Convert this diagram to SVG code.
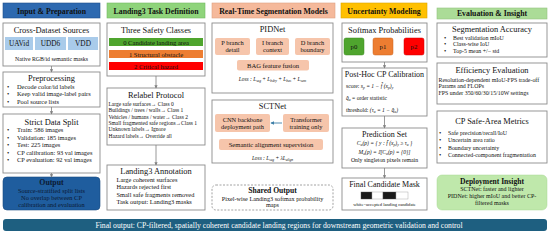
<svg xmlns="http://www.w3.org/2000/svg" width="550" height="233" viewBox="0 0 550 233">
<defs>
<marker id="ah" viewBox="0 0 6 6" refX="5" refY="3" markerWidth="4" markerHeight="4" orient="auto"><path d="M0,0 L6,3 L0,6 z" fill="#7f7f7f"/></marker>
<marker id="ahb" viewBox="0 0 6 6" refX="5" refY="3" markerWidth="4" markerHeight="4" orient="auto"><path d="M0,0 L6,3 L0,6 z" fill="#3d7fa8"/></marker>
<style>
text{font-family:"Liberation Serif","Times New Roman",serif;fill:#111;}
.box{fill:#fff;stroke:#8c8c8c;stroke-width:0.9;}
.hd{font-weight:bold;font-size:7.8px;text-anchor:middle;}
.tt{font-size:8.4px;text-anchor:middle;}
.tx{font-size:6.4px;}
.sm{font-size:5.5px;}
.c{text-anchor:middle;}
.eq{font-size:5.4px;font-style:italic;}
.sub{fill:#f6c5ab;}
.conn{stroke:#7f7f7f;stroke-width:0.8;fill:none;marker-end:url(#ah);}
</style>
</defs>

<!-- Column 1 -->
<g id="h1"><rect x="3" y="3" width="97" height="15" fill="#2d69b0" stroke="#1f4f8a" stroke-width="0.6"/><text class="hd" x="51.5" y="13.5">Input &amp; Preparation</text></g>
<g id="sources"><rect class="box" x="3" y="23" width="97" height="43"/><text class="tt" x="51.5" y="32.5">Cross-Dataset Sources</text>
<rect x="5" y="37" width="28" height="13" fill="#a9cbea"/><rect x="35" y="37" width="31" height="13" fill="#a9cbea"/><rect x="68" y="37" width="30" height="13" fill="#a9cbea"/>
<text class="c" x="19" y="46" font-size="7.3">UAVid</text><text class="c" x="50.5" y="46" font-size="7.3">UDD6</text><text class="c" x="83" y="46" font-size="7.3">VDD</text>
<text class="c" x="51.5" y="61" font-size="5.8">Native RGB/id semantic masks</text></g>
<g id="prep"><rect class="box" x="3" y="72" width="97" height="35"/><text class="tt" x="51.5" y="80.8">Preprocessing</text>
<text class="tx" x="7" y="88.5">•</text><text class="tx" x="17" y="88.5">Decode color/id labels</text>
<text class="tx" x="7" y="96">•</text><text class="tx" x="17" y="96">Keep valid image-label pairs</text>
<text class="tx" x="7" y="103.5">•</text><text class="tx" x="17" y="103.5">Pool source lists</text></g>
<g id="split"><rect class="box" x="3" y="114" width="97" height="59"/><text class="tt" x="51.5" y="124.5">Strict Data Split</text>
<text class="tx" x="7" y="132.3">•</text><text class="tx" x="17" y="132.3">Train: 586 images</text>
<text class="tx" x="7" y="139.8">•</text><text class="tx" x="17" y="139.8">Validation: 185 images</text>
<text class="tx" x="7" y="147.3">•</text><text class="tx" x="17" y="147.3">Test: 225 images</text>
<text class="tx" x="7" y="154.8">•</text><text class="tx" x="17" y="154.8">CP calibration: 93 val images</text>
<text class="tx" x="7" y="162.3">•</text><text class="tx" x="17" y="162.3">CP evaluation: 92 val images</text></g>
<g id="output1"><rect x="3" y="177" width="97" height="33" rx="4" fill="#1f5d9e" stroke="#184a80" stroke-width="0.6"/>
<text class="c" x="51.5" y="185.3" font-size="7.8" font-weight="bold" style="fill:#0b1a33">Output</text>
<text class="c tx" x="51.5" y="192.8" style="fill:#0b1a33">Source-stratified split lists</text>
<text class="c tx" x="51.5" y="199.8" style="fill:#0b1a33">No overlap between CP</text>
<text class="c tx" x="51.5" y="206.8" style="fill:#0b1a33">calibration and evaluation</text></g>

<!-- Column 2 -->
<g id="h2"><rect x="107" y="3" width="98" height="15" fill="#8fd47b" stroke="#74b862" stroke-width="0.6"/><text class="hd" x="156" y="13.5">Landing3 Task Definition</text></g>
<g id="classes"><rect class="box" x="107" y="23" width="98" height="53"/><text class="tt" x="156" y="32.5">Three Safety Classes</text>
<rect x="109" y="38" width="94" height="8" fill="#4fa52e"/><text class="c" x="156" y="44.5" font-size="6.6">0 Candidate landing area</text>
<rect x="109" y="50" width="94" height="8" fill="#ed7d31"/><text class="c" x="156" y="56.5" font-size="6.6">1 Structural obstacle</text>
<rect x="109" y="62" width="94" height="8" fill="#ff0000"/><text class="c" x="156" y="68.5" font-size="6.6">2 Critical hazard</text></g>
<g id="relabel"><rect class="box" x="107" y="88" width="98" height="57"/><text class="tt" x="156" y="97.5">Relabel Protocol</text>
<text class="sm" x="108.5" y="106">Large safe surfaces→ Class 0</text>
<text class="sm" x="108.5" y="112.3">Buildings / trees / walls→ Class 1</text>
<text class="sm" x="108.5" y="118.6">Vehicles / humans / water→ Class 2</text>
<text class="sm" x="108.5" y="124.9">Small fragmented safe regions→Class 1</text>
<text class="sm" x="108.5" y="131.2">Unknown labels→ Ignore</text>
<text class="sm" x="108.5" y="137.5">Hazard labels→ Override all</text></g>
<g id="annot"><rect class="box" x="107" y="165" width="98" height="45"/><text class="tt" x="156" y="174.3">Landing3 Annotation</text>
<text class="tx" x="116.5" y="182">Large coherent surfaces</text>
<text class="tx" x="116.5" y="189.3">Hazards rejected first</text>
<text class="tx" x="116.5" y="196.6">Small safe fragments removed</text>
<text class="tx" x="116.5" y="203.9">Task output: Landing3 masks</text></g>

<!-- Column 3 -->
<g id="h3"><rect x="212" y="3" width="123" height="15" fill="#f5b99b" stroke="#dca083" stroke-width="0.6"/><text class="hd" x="273.5" y="13.5">Real-Time Segmentation Models</text></g>
<g id="pidnet"><rect class="box" x="212" y="23" width="121" height="70"/><text class="tt" x="272.5" y="31.5">PIDNet</text>
<rect class="sub" x="215" y="38" width="35" height="17" rx="2"/><text class="c" x="232.5" y="45" font-size="6.4">P branch</text><text class="c" x="232.5" y="52.3" font-size="6.4">detail</text>
<rect class="sub" x="256" y="38" width="33" height="17" rx="2"/><text class="c" x="272.5" y="45" font-size="6.4">I branch</text><text class="c" x="272.5" y="52.3" font-size="6.4">context</text>
<rect class="sub" x="295" y="38" width="35" height="17" rx="2"/><text class="c" x="312.5" y="45" font-size="6.4">D branch</text><text class="c" x="312.5" y="52.3" font-size="6.4">boundary</text>
<rect class="sub" x="237" y="60" width="72" height="10.5" rx="2"/><text class="c" x="273" y="67.5" font-size="6.6">BAG feature fusion</text>
<text class="c eq" x="272.5" y="81">Loss : L<tspan font-size="3.6" dy="1">seg</tspan><tspan dy="-1"> + L</tspan><tspan font-size="3.6" dy="1">bdry</tspan><tspan dy="-1"> + L</tspan><tspan font-size="3.6" dy="1">bas</tspan><tspan dy="-1"> + L</tspan><tspan font-size="3.6" dy="1">sem</tspan></text></g>
<g id="sctnet"><rect class="box" x="212" y="100" width="121" height="63"/><text class="tt" x="272.5" y="108.5">SCTNet</text>
<rect class="sub" x="215" y="114" width="55" height="18" rx="2"/><text class="c" x="242.5" y="121.5" font-size="6.4">CNN backbone</text><text class="c" x="242.5" y="129" font-size="6.4">deployment path</text>
<rect class="sub" x="283" y="114" width="46" height="18" rx="2"/><text class="c" x="306" y="121.5" font-size="6.4">Transformer</text><text class="c" x="306" y="129" font-size="6.4">training only</text>
<rect class="sub" x="219" y="139" width="104" height="11" rx="2"/><text class="c" x="271" y="146.8" font-size="6.6">Semantic alignment supervision</text>
<text class="c eq" x="272.5" y="159.5">Loss : L<tspan font-size="3.6" dy="1">seg</tspan><tspan dy="-1"> + λL</tspan><tspan font-size="3.6" dy="1">align</tspan></text></g>
<g id="shared"><rect x="212" y="185" width="121" height="25" rx="4" fill="#fff" stroke="#8c8c8c" stroke-width="0.8" stroke-dasharray="2,1.5"/>
<text class="c" x="272.5" y="193" font-size="7.6" font-weight="bold">Shared Output</text>
<text class="c" x="272.5" y="200.6" font-size="6.2">Pixel-wise Landing3 softmax probability</text>
<text class="c" x="272.5" y="207.4" font-size="6.2">maps</text></g>

<!-- Column 4 -->
<g id="h4"><rect x="341" y="3" width="86" height="15" fill="#ffc000" stroke="#dba500" stroke-width="0.6"/><text class="hd" x="384" y="13.5">Uncertainty Modeling</text></g>
<g id="softmax"><rect class="box" x="342" y="23" width="85" height="39"/><text class="tt" x="384.5" y="32.5">Softmax Probabilities</text>
<rect x="344" y="38" width="20" height="17" rx="2" fill="#4fa52e" stroke="#3d8a22" stroke-width="0.5"/><text class="c" x="354" y="49" font-size="6.8">p0</text>
<rect x="373" y="38" width="20" height="17" rx="2" fill="#ed7d31" stroke="#c8631f" stroke-width="0.5"/><text class="c" x="383" y="49" font-size="6.8">p1</text>
<rect x="404" y="38" width="20" height="17" rx="2" fill="#ff0000" stroke="#cc0000" stroke-width="0.5"/><text class="c" x="414" y="49" font-size="6.8">p2</text></g>
<g id="posthoc"><rect class="box" x="342" y="68" width="85" height="48"/><text class="c" x="384.5" y="76.8" font-size="8">Post-Hoc CP Calibration</text>
<text x="346" y="87.5" font-size="5.6">score:  <tspan font-style="italic">s<tspan font-size="3.6" dy="1">p</tspan><tspan dy="-1"> = 1 − f̂ (x</tspan><tspan font-size="3.6" dy="1">p</tspan><tspan dy="-1">)</tspan><tspan font-size="3.6" dy="1">y</tspan></tspan></text>
<text x="346" y="99.5" font-size="5.6"><tspan font-style="italic">q̂</tspan><tspan font-size="3.6" dy="1" font-style="italic">α</tspan><tspan dy="-1"> = order statistic</tspan></text>
<text x="346" y="111.5" font-size="5.6">threshold:  <tspan font-style="italic">(τ<tspan font-size="3.6" dy="1">α</tspan><tspan dy="-1"> = 1 − q̂</tspan><tspan font-size="3.6" dy="1">α</tspan><tspan dy="-1">)</tspan></tspan></text></g>
<g id="predset"><rect class="box" x="342" y="128" width="85" height="40"/><text class="c" x="384.5" y="136.8" font-size="8">Prediction Set</text>
<text class="c" x="384.5" y="145" font-size="5.6" font-style="italic">C<tspan font-size="3.6" dy="1">α</tspan><tspan dy="-1">(p) = { y : f̂ (x</tspan><tspan font-size="3.6" dy="1">p</tspan><tspan dy="-1">)</tspan><tspan font-size="3.6" dy="1">y</tspan><tspan dy="-1"> ≥ τ</tspan><tspan font-size="3.6" dy="1">α</tspan><tspan dy="-1"> }</tspan></text>
<text class="c" x="384.5" y="154" font-size="5.6" font-style="italic">M<tspan font-size="3.6" dy="1">α</tspan><tspan dy="-1">(p) = 𝕀[C</tspan><tspan font-size="3.6" dy="1">α</tspan><tspan dy="-1">(p) = {0}]</tspan></text>
<text class="c" x="384.5" y="162" font-size="5.8">Only singleton pixels remain</text></g>
<g id="mask"><rect class="box" x="342" y="178" width="85" height="32"/><text class="c" x="384.5" y="186.8" font-size="8">Final Candidate Mask</text>
<rect x="361" y="192" width="11" height="7" fill="#1a1a1a" stroke="#555" stroke-width="0.4"/><rect x="372" y="192" width="11" height="7" fill="#fff" stroke="#999" stroke-width="0.4"/>
<rect x="383" y="192" width="13" height="7" fill="#1a1a1a" stroke="#555" stroke-width="0.4"/><rect x="396" y="192" width="12" height="7" fill="#fff" stroke="#999" stroke-width="0.4"/>
<text class="c" x="384.5" y="205.5" font-size="4.6">white=accepted landing candidate</text></g>

<!-- Column 5 -->
<g id="h5"><rect x="437" y="8" width="110" height="11" fill="#abdc97" stroke="#93c47f" stroke-width="0.6"/><text class="hd" x="492" y="16.2">Evaluation &amp; Insight</text></g>
<g id="segacc"><rect class="box" x="437" y="23" width="110" height="34"/><text class="tt" x="492" y="31.8">Segmentation Accuracy</text>
<text class="tx" x="444" y="39.5">•</text><text x="453" y="39.5" font-size="5.9">Best validation mIoU</text>
<text class="tx" x="444" y="46.3">•</text><text x="453" y="46.3" font-size="5.9">Class-wise IoU</text>
<text class="tx" x="444" y="53.1">•</text><text x="453" y="53.1" font-size="5.9">Top-5 mean +/− std</text></g>
<g id="eff"><rect class="box" x="437" y="63" width="110" height="41"/><text class="tt" x="492" y="72.8">Efficiency Evaluation</text>
<text x="438.5" y="81.5" font-size="5.9">Resolution-dependent mIoU-FPS trade-off</text>
<text x="438.5" y="88" font-size="5.9">Params and FLOPs</text>
<text x="438.5" y="94.5" font-size="5.9">FPS under 350/60/30/15/10W settings</text></g>
<g id="cpsafe"><rect class="box" x="437" y="111" width="110" height="52"/><text class="tt" x="492" y="123.5">CP Safe-Area Metrics</text>
<text class="tx" x="439" y="134.5">•</text><text x="448" y="134.5" font-size="5.9">Safe precision/recall/IoU</text>
<text class="tx" x="439" y="142">•</text><text x="448" y="142" font-size="5.9">Uncertain area ratio</text>
<text class="tx" x="439" y="149.5">•</text><text x="448" y="149.5" font-size="5.9">Boundary uncertainty</text>
<text class="tx" x="439" y="157">•</text><text x="448" y="157" font-size="5.9">Connected-component fragmentation</text></g>
<g id="deploy"><rect x="437" y="175" width="110" height="35" rx="5" fill="#bfe8ab" stroke="#a9d896" stroke-width="0.5"/>
<text class="c" x="492" y="183.5" font-size="7.6" font-weight="bold">Deployment Insight</text>
<text class="c" x="492" y="191" font-size="6">SCTNet: faster and lighter</text>
<text class="c" x="492" y="198" font-size="6">PIDNet: higher mIoU and better CP-</text>
<text class="c" x="492" y="205" font-size="6">filtered masks</text></g>

<!-- Final bar -->
<g id="final"><rect x="3" y="219" width="544" height="12" rx="3" fill="#1e5f80"/>
<text class="c" x="279" y="228.3" font-size="7.7" style="fill:#fff">Final output: CP-filtered, spatially coherent candidate landing regions for downstream geometric validation and control</text></g>

<!-- Connectors -->
<g id="connectors">
<line class="conn" x1="51.5" y1="66" x2="51.5" y2="72"/>
<line class="conn" x1="51.5" y1="107" x2="51.5" y2="114"/>
<line class="conn" x1="51.5" y1="173" x2="51.5" y2="177"/>
<line class="conn" x1="156" y1="76" x2="156" y2="88"/>
<line class="conn" x1="156" y1="145" x2="156" y2="165"/>
<line class="conn" x1="384.5" y1="62" x2="384.5" y2="68"/>
<line class="conn" x1="384.5" y1="116" x2="384.5" y2="128"/>
<line class="conn" x1="384.5" y1="168" x2="384.5" y2="178"/>
<line x1="282" y1="123" x2="271" y2="123" stroke="#3d7fa8" stroke-width="0.9" marker-end="url(#ahb)"/>
</g>
</svg>
